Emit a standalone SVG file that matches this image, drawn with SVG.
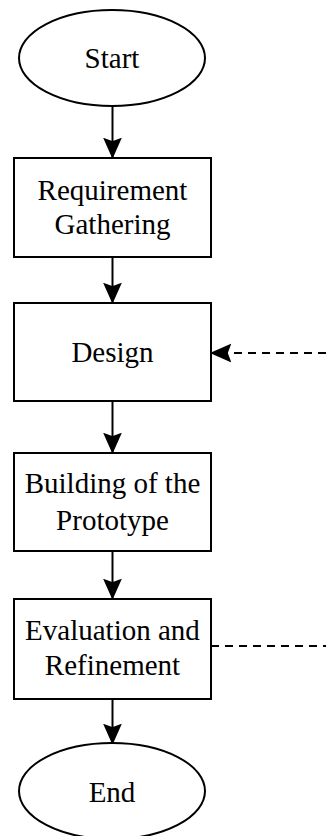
<svg xmlns="http://www.w3.org/2000/svg" width="326" height="836" viewBox="0 0 326 836">
  <style>
    .shape { fill: #ffffff; stroke: #000000; stroke-width: 2; }
    .label { font-family: "Liberation Serif", "Times New Roman", serif; font-size: 29px; fill: #000000; text-anchor: middle; }
    .edge { fill: none; stroke: #000000; stroke-width: 2; }
    .dashed { stroke-dasharray: 8 6; }
  </style>
  <defs>
    <marker id="arrow" viewBox="0 0 20 20" refX="19" refY="10" markerWidth="20" markerHeight="20" markerUnits="userSpaceOnUse" orient="auto">
      <path d="M1,2 L19,10 L1,18 L4,10 Z" fill="#000000" stroke="#000000" stroke-width="1.5" stroke-linejoin="miter"/>
    </marker>
  </defs>
  <rect width="326" height="836" fill="#ffffff"/>
  <g id="connectors">
    <line class="edge" x1="112.5" y1="106" x2="112.5" y2="157" marker-end="url(#arrow)"/>
    <line class="edge" x1="112.5" y1="257" x2="112.5" y2="302" marker-end="url(#arrow)"/>
    <line class="edge" x1="112.5" y1="401" x2="112.5" y2="452" marker-end="url(#arrow)"/>
    <line class="edge" x1="112.5" y1="551" x2="112.5" y2="598" marker-end="url(#arrow)"/>
    <line class="edge" x1="112.5" y1="699" x2="112.5" y2="743" marker-end="url(#arrow)"/>
    <line class="edge dashed" x1="326" y1="353" x2="212" y2="353" marker-end="url(#arrow)"/>
    <line class="edge dashed" x1="211" y1="646" x2="326" y2="646"/>
  </g>
  <g id="start">
    <ellipse class="shape" cx="112" cy="58" rx="93" ry="48"/>
    <text class="label" x="112" y="68">Start</text>
  </g>
  <g id="requirement">
    <rect class="shape" x="14" y="158" width="197" height="99"/>
    <text class="label" x="112.5" y="200">Requirement</text>
    <text class="label" x="112.5" y="234">Gathering</text>
  </g>
  <g id="design">
    <rect class="shape" x="14" y="303" width="197" height="98"/>
    <text class="label" x="112.5" y="362">Design</text>
  </g>
  <g id="building">
    <rect class="shape" x="14" y="453" width="197" height="98"/>
    <text class="label" x="112.5" y="493">Building of the</text>
    <text class="label" x="112.5" y="530">Prototype</text>
  </g>
  <g id="evaluation">
    <rect class="shape" x="14" y="599" width="197" height="100"/>
    <text class="label" x="112.5" y="640">Evaluation and</text>
    <text class="label" x="112.5" y="675">Refinement</text>
  </g>
  <g id="end">
    <ellipse class="shape" cx="112" cy="791" rx="93" ry="48"/>
    <text class="label" x="112" y="802">End</text>
  </g>
</svg>
